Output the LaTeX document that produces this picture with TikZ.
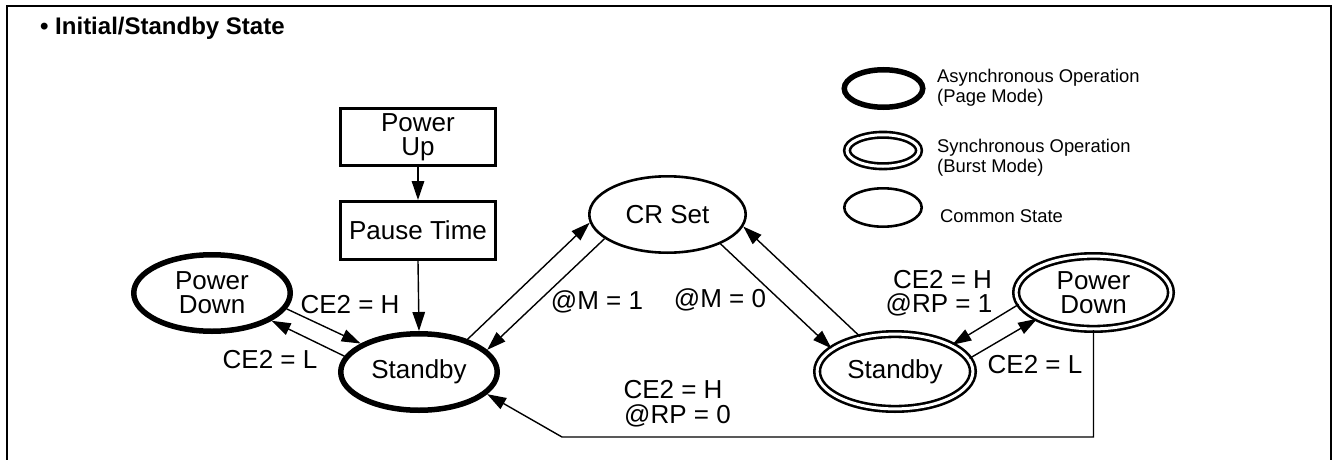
\documentclass[tikz,border=0pt]{standalone}
\usepackage{fontspec}
\setmainfont{Liberation Sans}
\usetikzlibrary{arrows.meta,shapes.geometric}
\begin{document}
\begin{tikzpicture}[x=1pt,y=-1pt,
  lbl/.style={font=\fontsize{26}{24}\selectfont, inner sep=0pt, anchor=base},
  leg/.style={font=\fontsize{18.4}{20}\selectfont, inner sep=0pt, anchor=base west},
  stbox/.style={draw, line width=2.8pt, minimum width=155.2pt, inner sep=0pt, align=center, font=\fontsize{26}{24}\selectfont},
  asyncst/.style={ellipse, draw, line width=5.5pt, inner sep=0pt, align=center, font=\fontsize{26}{24}\selectfont},
  syncst/.style={ellipse, draw, double, line width=2.6pt, double distance=3pt, inner sep=0pt, align=center, font=\fontsize{26}{24}\selectfont},
  commst/.style={ellipse, draw, line width=2.6pt, inner sep=0pt, align=center, font=\fontsize{26}{24}\selectfont},
  conn/.style={line width=1.4pt, -{Triangle[length=19pt,width=12.5pt]}},
]
\useasboundingbox (0,0) rectangle (1335,460);
% frame
\draw[line width=2pt] (6.5,470) -- (6.5,6) -- (1331,6) -- (1331,470);
% title
\node[anchor=base west, inner sep=0pt, font=\fontsize{24}{24}\selectfont\bfseries] (title) at (40,35) {• Initial/Standby State};

% boxes
\node[stbox, minimum height=57.2pt] (pu) at (418,137) {Power\\Up};
\node[stbox, minimum height=58.2pt] (pt) at (418,230.5) {Pause Time};

% states
\node[asyncst, minimum width=156.5pt, minimum height=76.5pt] (pdl) at (212,293) {Power\\Down};
\node[asyncst, minimum width=156.5pt, minimum height=76.5pt] (sbl) at (419,372) {Standby};
\node[commst, minimum width=156.4pt, minimum height=76.4pt] (cr) at (667.5,214.5) {CR Set};
\node[syncst, minimum width=155.8pt, minimum height=74.8pt] (sbr) at (895,371.5) {Standby};
\node[syncst, minimum width=154.8pt, minimum height=72.8pt] (pdr) at (1093.5,292.5) {Power\\Down};

% legend
\node[asyncst, minimum width=78.5pt, minimum height=37.5pt] (lg1) at (883.5,88.5) {};
\node[syncst, minimum width=72pt, minimum height=31.5pt] (lg2) at (883,150.5) {};
\node[commst, minimum width=77.4pt, minimum height=38.4pt] (lg3) at (883,207.5) {};
\node[leg] (lt1a) at (937,82) {Asynchronous Operation};
\node[leg] (lt1b) at (937,102) {(Page Mode)};
\node[leg] (lt2a) at (937,152) {Synchronous Operation};
\node[leg] (lt2b) at (937,172) {(Burst Mode)};
\node[leg] (lt3) at (940,222) {Common State};

% connectors
\draw[conn] (pu.south) -- (pt.north);
\draw[conn] (pt.south) -- (sbl.north);
\draw[conn] (pdl.-12.3) -- (sbl.154.9);
\draw[conn] (sbl.168.8) -- (pdl.-25.5);
\draw[conn] (sbl.34.8) -- (cr.-174.3);
\draw[conn] (cr.201.8) -- (sbl.18.2);
\draw[conn] (cr.-29.4) -- (sbr.160.6);
\draw[conn] (sbr.135.8) -- (cr.-9.3);
\draw[conn] (pdr.189.9) -- (sbr.25.8);
\draw[conn] (sbr.10.9) -- (pdr.205.5);
\coordinate (bend) at (562,437);
\draw[conn] (pdr.south) |- (bend) -- (sbl.-18.7);

% labels
\node[lbl] (l1) at (350,313) {CE2 = H};
\node[lbl] (l2) at (270,368) {CE2 = L};
\node[lbl] (l3) at (597,309) {@M = 1};
\node[lbl] (l4) at (720,307) {@M = 0};
\node[lbl] (l5a) at (673,398) {CE2 = H};
\node[lbl] (l5b) at (677.5,423) {@RP = 0};
\node[lbl] (l6a) at (942.5,288) {CE2 = H};
\node[lbl] (l6b) at (939,312) {@RP = 1};
\node[lbl] (l7) at (1035,373) {CE2 = L};
\end{tikzpicture}
\end{document}
